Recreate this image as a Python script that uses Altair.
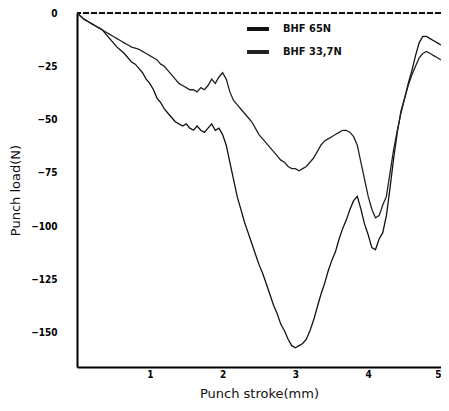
import altair as alt
import pandas as pd

stroke_mm = [round(i * 0.05, 2) for i in range(101)]

bhf_65 = [0, -1.5, -3, -4, -5, -6, -7, -8, -10, -12,
          -14, -16, -17.5, -19, -21, -23, -24, -26, -28, -31,
          -33, -36, -40, -42, -45, -47, -49, -51, -52, -53,
          -52, -54, -55, -53, -55, -56, -54, -52, -55, -54,
          -57, -62, -70, -78, -86, -92, -98, -103, -108, -113,
          -118, -122, -127, -132, -137, -141, -146, -149, -153, -156,
          -157, -156, -155, -153, -149, -144, -138, -132, -127, -121,
          -116, -112, -106, -101, -97, -92, -88, -86, -92, -99,
          -104, -110, -111, -106, -103, -95, -82, -68, -56, -46,
          -40, -33, -27, -20, -14, -11, -11, -12, -13, -14, -15]

bhf_337 = [0, -1.5, -3, -4, -5, -6, -7, -8, -9, -10,
           -11, -12, -13, -14, -15, -16, -16.5, -17, -18, -19,
           -20, -21, -22, -24, -25, -27, -29, -31, -33, -34,
           -35, -36, -36, -37, -35, -36, -34, -31, -33, -30,
           -28, -31, -37, -41, -43, -45, -47, -49, -51, -54,
           -57, -59, -61, -63, -65, -67, -69, -70, -72, -73,
           -73, -74, -73, -72, -70, -68, -65, -62, -60, -59,
           -58, -57, -56, -55, -55, -56, -58, -62, -70, -78,
           -86, -92, -96, -95, -90, -86, -75, -64, -55, -47,
           -40, -34, -29, -25, -21, -19, -18, -19, -20, -21, -22]

series = ["BHF 65N", "BHF 33,7N"]
x_ticks = [1, 2, 3, 4, 5]
y_ticks = [0, -25, -50, -75, -100, -125, -150]

rows = []
for name, vals in zip(series, [bhf_65, bhf_337]):
    for x, y in zip(stroke_mm, vals):
        rows.append({"stroke": x, "load": y, "series": name})
df = pd.DataFrame(rows)

FONT = "Liberation Sans Narrow, DejaVu Sans Condensed, Arial Narrow, sans-serif"

xs = alt.Scale(domain=[0, 5], nice=False, zero=False)
ys = alt.Scale(domain=[-166, 0], nice=False, zero=False)

lines = alt.Chart(df).mark_line(strokeWidth=1.3, clip=True).encode(
    x=alt.X("stroke:Q", scale=xs,
            axis=alt.Axis(title="Punch stroke(mm)", values=x_ticks, ticks=False,
                          labelPadding=2, titlePadding=8, grid=False,
                          domainColor="black", domainWidth=2,
                          labelFont=FONT, labelFontSize=10, labelFontWeight="bold",
                          titleFont="DejaVu Sans", titleFontSize=13,
                          titleFontWeight="normal", titleColor="#111")),
    y=alt.Y("load:Q", scale=ys,
            axis=alt.Axis(title="Punch load(N)", values=y_ticks, ticks=False,
                          labelPadding=20, titlePadding=8, grid=False,
                          domainColor="black", domainWidth=2,
                          labelFont=FONT, labelFontSize=10, labelFontWeight="bold",
                          titleFont="DejaVu Sans", titleFontSize=13,
                          titleFontWeight="normal", titleColor="#111")),
    color=alt.Color("series:N", scale=alt.Scale(domain=series, range=["#111111", "#222222"]),
                    legend=alt.Legend(title=None, orient="none", legendX=168, legendY=3,
                                      symbolType="stroke", symbolSize=480,
                                      symbolStrokeWidth=4, rowPadding=2,
                                      labelOffset=12,
                                      labelFont=FONT, labelFontSize=11,
                                      labelFontWeight="bold", labelColor="#111")),
    detail="series:N",
)

zero_df = pd.DataFrame({"y": [0]})
zero_line = alt.Chart(zero_df).mark_rule(color="#111", strokeWidth=2, strokeDash=[6, 2]).encode(
    y=alt.Y("y:Q", scale=ys)
)

chart = alt.layer(zero_line, lines).properties(
    width=364, height=354,
    autosize=alt.AutoSizeParams(type="none"),
    padding={"left": 69, "top": 5, "right": 0, "bottom": 34},
).configure_view(stroke="#aaaaaa", strokeDash=[3, 3], strokeWidth=1).configure(background="white")

chart.save("out.html", embed_options={"renderer": "svg", "actions": False})
